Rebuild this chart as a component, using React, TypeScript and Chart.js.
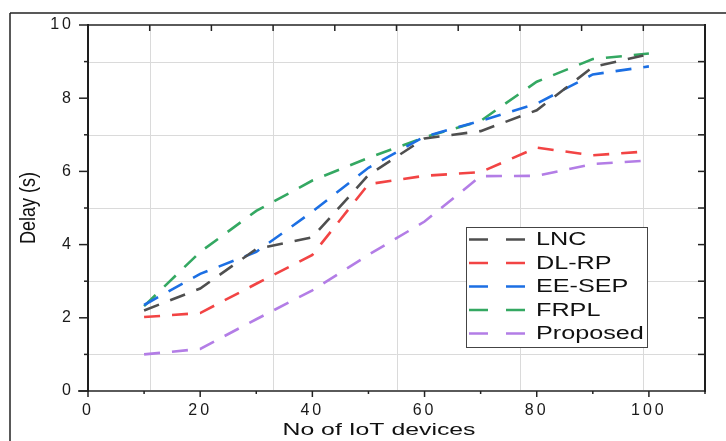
import React, { useEffect, useRef } from 'react';
import { Chart, registerables } from 'chart.js';

Chart.register(...registerables);

// ---- data ----
const devices = [10, 20, 30, 40, 50, 60, 70, 80, 90, 100];
const lncDelay = [2.2, 2.8, 3.88, 4.2, 5.9, 6.9, 7.1, 7.67, 8.85, 9.2];
const dlrpDelay = [2.02, 2.13, 2.93, 3.72, 5.65, 5.88, 5.98, 6.65, 6.44, 6.55];
const eesepDelay = [2.35, 3.2, 3.8, 4.9, 6.1, 6.95, 7.38, 7.85, 8.65, 8.87];
const frplDelay = [2.32, 3.8, 4.92, 5.75, 6.37, 6.93, 7.38, 8.45, 9.07, 9.22];
const proposedDelay = [1.0, 1.15, 1.96, 2.75, 3.72, 4.63, 5.87, 5.88, 6.2, 6.3];

const seriesNames = ['LNC', 'DL-RP', 'EE-SEP', 'FRPL', 'Proposed'];
const seriesValues = [lncDelay, dlrpDelay, eesepDelay, frplDelay, proposedDelay];
const seriesColors = ['#4f4f4f', '#f24444', '#1c6fe3', '#34a862', '#b37de6'];

const xTitle = 'No of IoT devices';
const yTitle = 'Delay (s)';
const yMinorValues = [1, 3, 5, 7, 9];
const xMinorValues = [10, 30, 50, 70, 90, 110];
const xMajorValues = [0, 20, 40, 60, 80, 100];
const yMajorValues = [0, 2, 4, 6, 8, 10];
const yRightTickValues = [1, 2, 3, 4, 5, 6, 7, 8, 9];

const FONT = '"Liberation Sans", Arial, Helvetica, sans-serif';

function line(ctx: CanvasRenderingContext2D, x1: number, y1: number, x2: number, y2: number) {
  ctx.beginPath();
  ctx.moveTo(x1, y1);
  ctx.lineTo(x2, y2);
  ctx.stroke();
}

const framePlugin = {
  id: 'framePlugin',
  beforeLayout(chart: any) {
    chart.ctx.letterSpacing = '3px';
  },
  beforeDraw(chart: any) {
    chart.ctx.letterSpacing = '3px';
  },
  beforeDatasetsDraw(chart: any) {
    const ctx: CanvasRenderingContext2D = chart.ctx;
    const a = chart.chartArea;
    const y = chart.scales.y;
    ctx.save();
    ctx.letterSpacing = '0px';
    ctx.strokeStyle = '#dadada';
    ctx.lineWidth = 1;
    for (const v of yMinorValues) {
      const py = Math.round(y.getPixelForValue(v)) + 0.5;
      line(ctx, a.left, py, a.right, py);
    }
    for (const k of [1, 3, 5, 7, 9]) {
      const px = Math.round(a.left + (a.width * k) / 10) + 0.5;
      line(ctx, px, a.top, px, a.bottom);
    }
    ctx.restore();
  },
  afterDraw(chart: any) {
    const ctx: CanvasRenderingContext2D = chart.ctx;
    const a = chart.chartArea;
    const x = chart.scales.x;
    const y = chart.scales.y;
    ctx.save();
    ctx.letterSpacing = '0px';

    // axis lines
    ctx.lineWidth = 2;
    ctx.strokeStyle = '#5a5a5a';
    line(ctx, a.left - 10, a.bottom, a.right, a.bottom);
    line(ctx, a.left, a.top, a.right, a.top);
    ctx.strokeStyle = '#1e1e1e';
    line(ctx, a.left, a.top - 1, a.left, a.bottom + 1);
    line(ctx, a.right, a.top - 1, a.right, a.bottom + 1);

    // ticks
    ctx.lineWidth = 1.5;
    ctx.strokeStyle = '#222';
    for (const v of yMajorValues) {
      const py = y.getPixelForValue(v);
      line(ctx, a.left - 9, py, a.left, py);
    }
    for (const v of yMinorValues) {
      const py = y.getPixelForValue(v);
      line(ctx, a.left - 4, py, a.left, py);
    }
    for (const v of xMajorValues) {
      const px = x.getPixelForValue(v);
      line(ctx, px, a.bottom, px, a.bottom + 6);
    }
    for (const v of xMinorValues) {
      const px = x.getPixelForValue(v);
      line(ctx, px, a.bottom, px, a.bottom + 3);
    }
    for (let k = 1; k <= 9; k++) {
      const px = a.left + (a.width * k) / 10;
      line(ctx, px, a.top, px, a.top + 6);
    }
    for (const v of yRightTickValues) {
      const py = y.getPixelForValue(v);
      line(ctx, a.right - 7, py, a.right, py);
    }

    // legend
    const lx = 466.5, ly = 227.5, lw = 181, lh = 120;
    ctx.fillStyle = '#ffffff';
    ctx.fillRect(lx, ly, lw, lh);
    ctx.strokeStyle = '#444';
    ctx.lineWidth = 1;
    ctx.strokeRect(lx, ly, lw, lh);
    seriesNames.forEach((name, i) => {
      const cy = 239.5 + i * 23.5;
      ctx.save();
      ctx.strokeStyle = seriesColors[i];
      ctx.lineWidth = 2.5;
      ctx.setLineDash([19, 18]);
      line(ctx, 469, cy, 525, cy);
      ctx.restore();
      ctx.save();
      ctx.fillStyle = '#111';
      ctx.font = `18px ${FONT}`;
      ctx.textAlign = 'left';
      ctx.textBaseline = 'middle';
      ctx.translate(536, cy + 1);
      ctx.scale(1.4, 1);
      ctx.fillText(name, 0, 0);
      ctx.restore();
    });

    // axis titles
    ctx.fillStyle = '#111';
    ctx.textAlign = 'center';
    ctx.textBaseline = 'middle';
    ctx.save();
    ctx.font = `16px ${FONT}`;
    ctx.translate(379, 431);
    ctx.scale(1.55, 1);
    ctx.fillText(xTitle, 0, 0);
    ctx.restore();
    ctx.save();
    ctx.font = `18px ${FONT}`;
    ctx.translate(29, (a.top + a.bottom) / 2);
    ctx.scale(1.2, 1);
    ctx.rotate(-Math.PI / 2);
    ctx.fillText(yTitle, 0, 0);
    ctx.restore();

    // outer frame
    ctx.strokeStyle = '#222';
    ctx.lineWidth = 1.5;
    line(ctx, 10, 13, 10, chart.height);
    line(ctx, 10, 13, chart.width, 13);

    ctx.restore();
  },
};

export default function App() {
  const canvasRef = useRef<HTMLCanvasElement | null>(null);

  useEffect(() => {
    const canvas = canvasRef.current;
    if (!canvas) return;
    const datasets = seriesNames.map((name, i) => ({
      label: name,
      data: devices.map((d, j) => ({ x: d, y: seriesValues[i][j] })),
      borderColor: seriesColors[i],
      backgroundColor: seriesColors[i],
      borderWidth: 2.6,
      borderDash: [16, 12],
      pointRadius: 0,
      tension: 0,
      fill: false,
    }));
    const tickFont = { family: FONT, size: 16 };
    const chart = new Chart(canvas, {
      type: 'line',
      data: { datasets },
      options: {
        animation: false,
        responsive: true,
        maintainAspectRatio: false,
        layout: { padding: { left: 0, top: 25, right: 21, bottom: 0 } },
        plugins: { legend: { display: false }, tooltip: { enabled: false } },
        scales: {
          x: {
            type: 'linear',
            min: 0,
            max: 110,
            afterFit: (s: any) => {
              s.height = 50;
            },
            grid: { display: false, drawTicks: false },
            border: { display: false },
            ticks: {
              stepSize: 20,
              includeBounds: false,
              autoSkip: false,
              maxRotation: 0,
              padding: 10,
              color: '#1a1a1a',
              font: tickFont,
            },
          },
          y: {
            type: 'linear',
            min: 0,
            max: 10,
            afterFit: (s: any) => {
              s.width = 88;
            },
            grid: { display: false, drawTicks: false },
            border: { display: false },
            ticks: {
              stepSize: 2,
              padding: 14,
              color: '#1a1a1a',
              font: tickFont,
            },
          },
        },
      },
      plugins: [framePlugin],
    } as any);
    return () => chart.destroy();
  }, []);

  return (
    <div style={{ position: 'fixed', left: 0, top: 0, width: 726, height: 441, background: '#fff' }}>
      <canvas ref={canvasRef} />
    </div>
  );
}
